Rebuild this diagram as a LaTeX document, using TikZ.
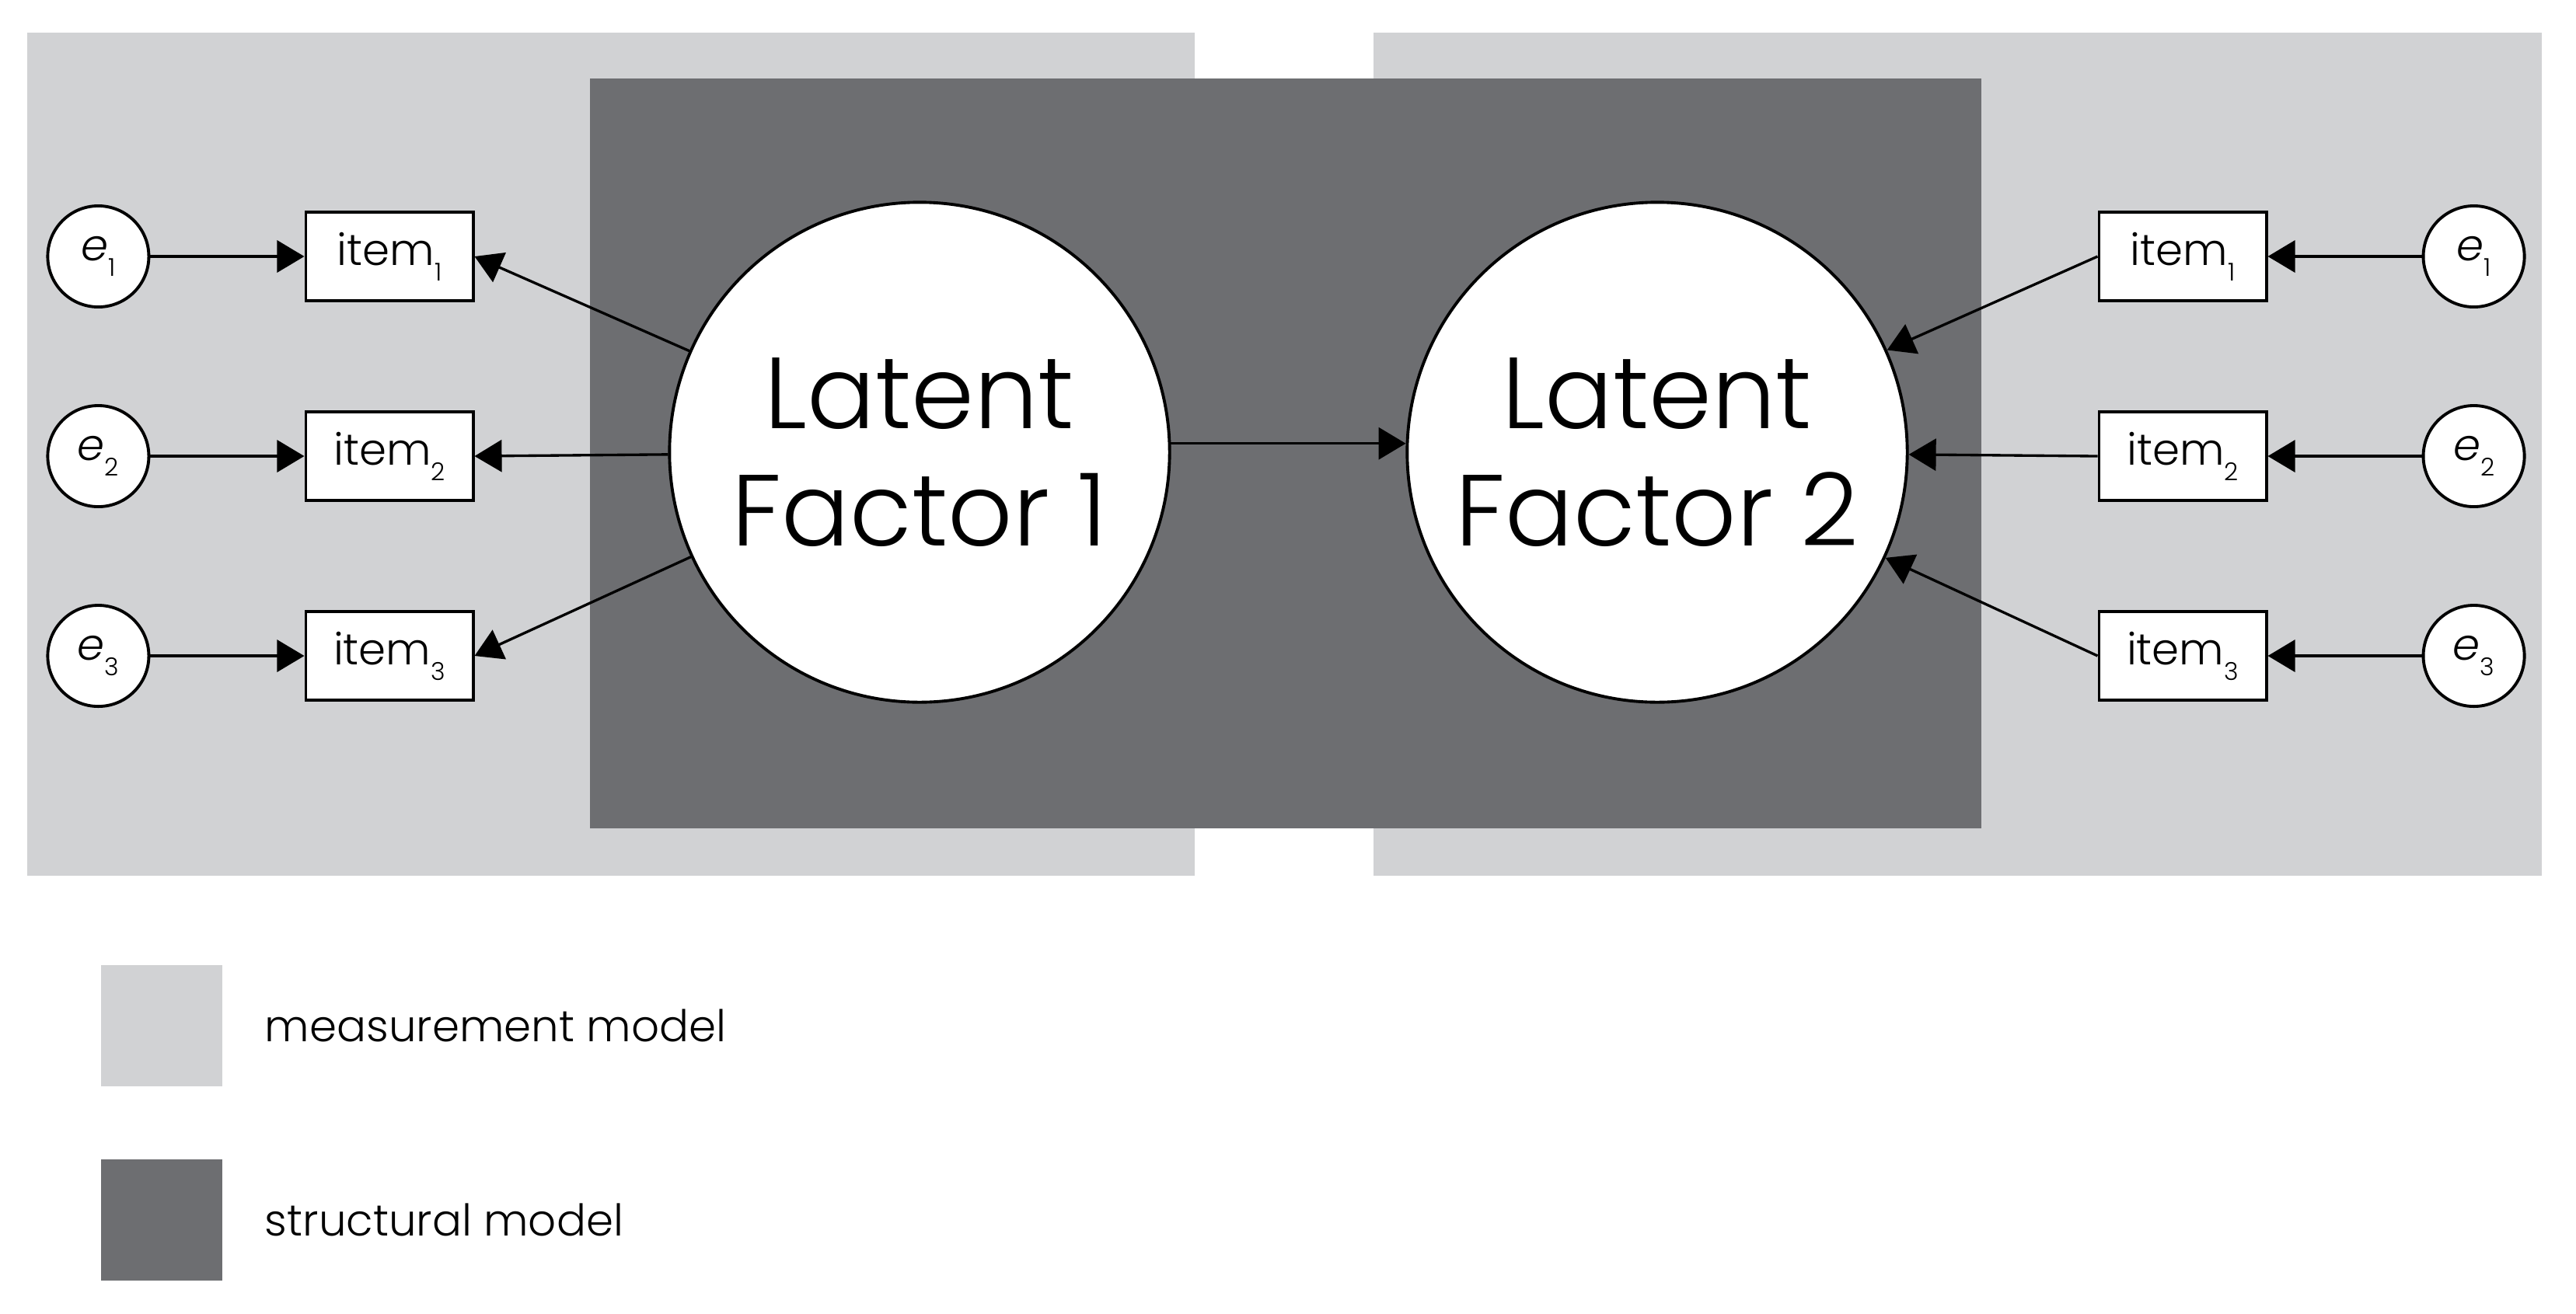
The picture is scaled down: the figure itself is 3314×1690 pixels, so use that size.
\documentclass[tikz,border=0pt]{standalone}
\usepackage{fontspec}
\setmainfont{Poppins}[UprightFont=* Light, ItalicFont=* Light Italic]
\usepackage{tikz}
\usetikzlibrary{arrows.meta,positioning}

\definecolor{measurecol}{HTML}{D1D2D4}
\definecolor{structcol}{HTML}{6D6E71}

\newcommand{\lowsub}[1]{\raisebox{-0.2cm}{\fontsize{9}{9}\selectfont #1}}

\tikzset{
  itembox/.style={draw, line width=1.1pt, fill=white, minimum width=2.15cm, minimum height=1.14cm, inner sep=0pt, font=\fontsize{16}{16}\selectfont},
  errnode/.style={draw, circle, line width=1.1pt, fill=white, minimum size=1.3cm, inner sep=0pt, font=\fontsize{16}{16}\selectfont},
  latentnode/.style={draw, circle, line width=1.1pt, fill=white, minimum size=6.43cm, inner sep=0pt, align=center, font=\fontsize{37}{42.7}\selectfont},
  legbox/.style={minimum width=1.55cm, minimum height=1.55cm, inner sep=0pt},
  legtext/.style={inner sep=0pt, font=\fontsize{16}{16}\selectfont}
}

\begin{document}
\begin{tikzpicture}[->, >={Triangle[length=3.5mm,width=4.1mm]}, line width=0.95pt, x=0.01cm, y=-0.01cm]
                \useasboundingbox (0,0) rectangle (3314,1690);

                % panels
                \fill[measurecol] (35,42) rectangle (1537,1127);
                \fill[measurecol] (1767,42) rectangle (3270,1127);
                \fill[structcol] (759,101) rectangle (2549,1066);

                \node[latentnode]    (f1) at (1183,582)            {Latent\\Factor 1};
                \node[latentnode]    (f2) at (2132,582)            {Latent\\Factor 2};

                \node[itembox]       (il1) at (501,330)            {item\lowsub{1}};
                \node[itembox]       (il2) [below=1.39cm of il1]   {item\lowsub{2}};
                \node[itembox]       (il3) [below=1.39cm of il2]   {item\lowsub{3}};
                \node[itembox]       (ir1) at (2808,330)           {item\lowsub{1}};
                \node[itembox]       (ir2) [below=1.39cm of ir1]   {item\lowsub{2}};
                \node[itembox]       (ir3) [below=1.39cm of ir2]   {item\lowsub{3}};

                \foreach \i in {1,2,3} {
                    \node[errnode]   (el\i) [left=1.98cm of il\i]  {\textit{e}\lowsub{\i}};
                    \node[errnode]   (er\i) [right=1.98cm of ir\i] {\textit{e}\lowsub{\i}};
                    \draw (el\i) -- (il\i);
                    \draw (er\i) -- (ir\i);
                    \draw (f1) -- (il\i.east);
                    \draw (ir\i.west) -- (f2);
                }
                \draw (f1.2) -- (f2.178);

                % legend
                \node[legbox, fill=measurecol] (lm) at (208,1320) {};
                \node[legbox, fill=structcol]  (ls) at (208,1570) {};
                \node[legtext] (tm) [right=0.52cm of lm] {measurement model};
                \node[legtext] (ts) [right=0.52cm of ls] {structural model};
\end{tikzpicture}
\end{document}
